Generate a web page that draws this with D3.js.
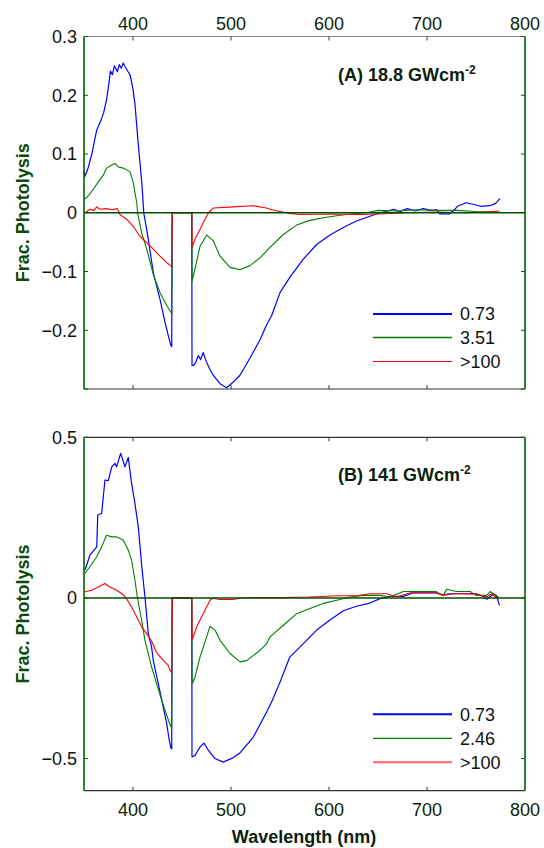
<!DOCTYPE html>
<html>
<head>
<meta charset="utf-8">
<script src="https://cdn.jsdelivr.net/npm/d3@7"></script>
<style>
  body { margin: 0; background: #fff; }
  svg text { font-family: "Liberation Sans", Arial, sans-serif; }
</style>
</head>
<body>
<svg id="chart" width="544" height="848"></svg>
<script>
// wavelength (nm), fractional photolysis
var aBlue = [[350,0.07],[351,0.062],[354,0.075],[358,0.1],[363,0.141],[367,0.156],[370,0.17],[373,0.192],[375,0.215],[377,0.241],[379,0.235],[381,0.25],[384,0.24],[386,0.252],[388,0.246],[390,0.255],[392,0.248],[395,0.24],[397,0.235],[400,0.21],[402,0.185],[405,0.124],[409,0.051],[411,0],[415.6,-0.045],[420.7,-0.102],[427.5,-0.147],[432.6,-0.186],[436,-0.209],[438.5,-0.225],[439.5,-0.228],[440,0],[460,0],[460.2,-0.26],[461.5,-0.26],[464,-0.255],[466.6,-0.243],[469,-0.25],[471.7,-0.238],[474,-0.25],[478,-0.265],[482,-0.277],[488.8,-0.291],[495.6,-0.298],[502.4,-0.288],[509,-0.277],[515,-0.26],[522.8,-0.237],[530,-0.215],[536,-0.192],[541.5,-0.175],[550,-0.136],[560,-0.11],[573.8,-0.079],[587.4,-0.054],[601,-0.038],[614.6,-0.025],[628,-0.014],[641.8,-0.006],[652,0],[660,0.003],[666,0.006],[672,0.002],[680,0.007],[688,0.003],[696,0.007],[704,0.004],[710,0.005],[713,-0.002],[723,-0.002],[728,0.005],[731,0.011],[740,0.017],[748,0.014],[754.6,0.011],[764,0.012],[770,0.016],[774.5,0.024]];
var aGreen = [[351,0.023],[355,0.03],[359.5,0.04],[366,0.056],[370,0.065],[373,0.076],[377,0.08],[381.6,0.084],[385,0.078],[390,0.076],[396.9,0.07],[400.3,0.051],[403.8,0.017],[404.7,0],[408.8,-0.034],[414,-0.062],[420.7,-0.105],[427.6,-0.136],[434.4,-0.158],[438.5,-0.169],[439.5,-0.172],[440,0],[460,0],[460.3,-0.116],[463.2,-0.096],[468.4,-0.057],[475.2,-0.038],[482,-0.048],[488.8,-0.074],[499,-0.093],[509,-0.097],[519.4,-0.09],[530,-0.076],[539.8,-0.059],[553.4,-0.037],[567,-0.021],[580.6,-0.013],[594,-0.0085],[607.9,-0.005],[621.4,-0.002],[638,0],[650,0.004],[670,0.003],[690,0.005],[710,0.004],[730,0.004],[750,0.002],[772,0.001]];
var aRed = [[351,0],[356,0.006],[360,0.004],[363,0.01],[366,0.006],[373,0.007],[378,0.005],[384,0.007],[386.7,-0.003],[393.5,-0.011],[400.3,-0.023],[407,-0.04],[414,-0.051],[420.7,-0.062],[427.6,-0.074],[434.4,-0.085],[438.5,-0.09],[439.5,-0.092],[440,0],[460,0],[460.3,-0.059],[463.3,-0.045],[468.4,-0.028],[473.5,-0.011],[477,0],[482,0.008],[502.4,0.01],[522.8,0.012],[536,0.008],[540,0.006],[550,0.002],[560,-0.001],[570,-0.003],[600,-0.002],[630,-0.003],[650,-0.002],[680,0],[710,0.001],[740,0],[760,0.001],[774,0.003]];

var bBlue = [[351,0.086],[356,0.133],[363,0.159],[364,0.258],[368,0.263],[371.4,0.367],[374.8,0.365],[378.3,0.408],[381.6,0.419],[383.3,0.408],[387.4,0.45],[391.8,0.408],[395.2,0.437],[398.6,0.356],[402,0.294],[405.4,0.221],[409,0.097],[412.2,0.003],[415.6,-0.111],[419,-0.153],[420.7,-0.194],[425.8,-0.267],[430.9,-0.34],[434.4,-0.391],[437,-0.443],[438.5,-0.466],[439.5,-0.47],[440,0],[460,0],[460.2,-0.495],[463.3,-0.49],[468.4,-0.464],[472.4,-0.452],[476.8,-0.474],[483.7,-0.5],[492,-0.511],[502.4,-0.497],[509,-0.483],[522.8,-0.433],[536.4,-0.355],[542,-0.32],[550,-0.262],[560,-0.184],[573.8,-0.142],[587.4,-0.1],[601,-0.069],[614.6,-0.04],[628,-0.026],[641.8,-0.016],[652,-0.002],[662,0.005],[676,0.005],[686,0.016],[700,0.016],[709,0.016],[716.5,0.01],[723,0.013],[740,0.013],[750,0.013],[757.5,0.005],[761,-0.004],[768,0.012],[771,0.005],[774,-0.023]];
var bGreen = [[351,0.076],[356,0.097],[363,0.128],[368,0.159],[373,0.195],[378.3,0.19],[383.3,0.19],[390,0.18],[395.2,0.149],[398.6,0.117],[402,0.055],[404.4,0.003],[408.8,-0.069],[412.2,-0.132],[419,-0.215],[424.1,-0.267],[429.3,-0.319],[434.4,-0.365],[438.5,-0.4],[439.5,-0.405],[440,0],[460,0],[460.3,-0.267],[463.3,-0.246],[468.4,-0.184],[473.5,-0.137],[478.6,-0.088],[483.7,-0.1],[488.8,-0.132],[499,-0.173],[509.2,-0.199],[516,-0.195],[529.6,-0.163],[536.4,-0.142],[539.8,-0.121],[553.4,-0.085],[567,-0.049],[580.6,-0.033],[594.2,-0.017],[607.9,-0.007],[621.4,0.003],[635,0.008],[652,0.008],[662,0.003],[676,0.02],[690,0.02],[709,0.02],[716.6,0.008],[720,0.027],[730,0.02],[744,0.02],[750,0.008],[761,0.008],[764.5,0.02],[773,0.003]];
var bRed = [[351,0.019],[357.8,0.024],[364.6,0.034],[371.4,0.045],[376.5,0.034],[383.3,0.024],[390,0.01],[393,0],[398.6,-0.028],[403.8,-0.059],[408.8,-0.09],[414,-0.111],[419,-0.135],[424,-0.17],[430.9,-0.194],[436,-0.21],[438.5,-0.23],[439.5,-0.232],[440,0],[460,0],[460.3,-0.13],[465,-0.09],[468.4,-0.069],[473.5,-0.038],[478.6,-0.007],[482,0],[488,-0.005],[502,-0.005],[510,0],[523,0.001],[553,0.001],[580,0.003],[608,0.007],[628,0.007],[642,0.013],[659,0.013],[669,0.003],[683,0.016],[709,0.016],[716,0.008],[730,0.014],[750,0.012],[761,0.003],[766,0.013],[773,-0.005]];

var xTicks = [400, 500, 600, 700, 800];
var aTicks = [0.3, 0.2, 0.1, 0, -0.1, -0.2, -0.3];
var bTicks = [0.5, 0, -0.5];

var panels = [
  { title: "(A) 18.8 GWcm", top: 36.5, bottom: 389, domain: [-0.3, 0.3], ticks: aTicks, labels: [0.3, 0.2, 0.1, 0, -0.1, -0.2],
    series: [aBlue, aGreen, aRed], legend: ["0.73", "3.51", ">100"], legendW: [2, 1.6, 1.1], labelsOnTop: true },
  { title: "(B) 141 GWcm", top: 437.3, bottom: 790.7, domain: [-0.6, 0.5], ticks: bTicks, labels: bTicks,
    series: [bBlue, bGreen, bRed], legend: ["0.73", "2.46", ">100"], legendW: [2, 1.3, 2], labelsOnTop: false }
];
var colors = ["#0000ff", "#008000", "#ff0000"];
var lineW = [1.2, 1.1, 1.1];

var svg = d3.select("#chart");
var left = 84, right = 525;
var x = d3.scaleLinear().domain([350, 800]).range([left, right]);
var axisGreen = "#006000";
var textCol = "#0c1f0c";

panels.forEach(function (p) {
  var y = d3.scaleLinear().domain(p.domain).range([p.bottom, p.top]);
  var g = svg.append("g");

  // curves
  var line = d3.line().x(function (d) { return x(d[0]); }).y(function (d) { return y(d[1]); });
  p.series.forEach(function (s, i) {
    g.append("path").datum(s)
      .attr("d", line)
      .attr("fill", "none")
      .attr("stroke", colors[i])
      .attr("stroke-width", lineW[i])
      .attr("stroke-linejoin", "round");
  });

  // zero line
  g.append("line")
    .attr("x1", left).attr("x2", right)
    .attr("y1", y(0)).attr("y2", y(0))
    .attr("stroke", "#005000").attr("stroke-width", 1.6);

  // frame
  g.append("line").attr("x1", left).attr("x2", right).attr("y1", p.top).attr("y2", p.top)
    .attr("stroke", p.labelsOnTop ? "#8a8a8a" : "#333").attr("stroke-width", 1.2);
  g.append("line").attr("x1", left).attr("x2", right).attr("y1", p.bottom).attr("y2", p.bottom)
    .attr("stroke", "#333").attr("stroke-width", 1.2);
  g.append("line").attr("x1", left).attr("x2", left).attr("y1", p.top).attr("y2", p.bottom)
    .attr("stroke", axisGreen).attr("stroke-width", 1.6);
  g.append("line").attr("x1", right).attr("x2", right).attr("y1", p.top).attr("y2", p.bottom)
    .attr("stroke", axisGreen).attr("stroke-width", 1.6);

  // inward ticks
  var innerX = xTicks.filter(function (t) { return t < 800; });
  g.selectAll(null).data(innerX).enter().append("line")
    .attr("x1", x).attr("x2", x).attr("y1", p.top).attr("y2", p.top + 4)
    .attr("stroke", axisGreen);
  g.selectAll(null).data(innerX).enter().append("line")
    .attr("x1", x).attr("x2", x).attr("y1", p.bottom).attr("y2", p.bottom - 4)
    .attr("stroke", axisGreen);
  g.selectAll(null).data(p.ticks).enter().append("line")
    .attr("x1", right).attr("x2", right - 4).attr("y1", y).attr("y2", y)
    .attr("stroke", axisGreen);
  g.selectAll(null).data(p.ticks).enter().append("line")
    .attr("x1", left).attr("x2", left + 4).attr("y1", y).attr("y2", y)
    .attr("stroke", axisGreen);

  // tick labels
  var fmt = function (d) { return d === 0 ? "0" : d3.format("")(d); };
  g.selectAll(null).data(p.labels).enter().append("text")
    .attr("x", left - 7).attr("y", y).attr("dy", "0.36em")
    .attr("text-anchor", "end").attr("font-size", 18).attr("fill", "#111")
    .text(fmt);
  g.selectAll(null).data(xTicks).enter().append("text")
    .attr("x", x).attr("y", p.labelsOnTop ? 29.5 : 816)
    .attr("text-anchor", "middle").attr("font-size", 18).attr("fill", textCol)
    .text(function (d) { return d; });

  // title
  var t = g.append("text").attr("x", 338).attr("y", p.top + 44)
    .attr("font-size", 18).attr("font-weight", "bold").attr("fill", textCol);
  t.append("tspan").text(p.title);
  t.append("tspan").attr("dy", -7).attr("font-size", 12).text("-2");

  // y label
  g.append("text")
    .attr("transform", "translate(29," + ((p.top + p.bottom) / 2) + ") rotate(-90)")
    .attr("text-anchor", "middle").attr("font-size", 18).attr("font-weight", "bold")
    .attr("fill", "#0a4a0a").text("Frac. Photolysis");

  // legend
  var ly = p.labelsOnTop ? [314, 337.5, 361.5] : [714.3, 738.3, 762.3];
  p.legend.forEach(function (name, i) {
    g.append("line").attr("x1", 373).attr("x2", 452).attr("y1", ly[i]).attr("y2", ly[i])
      .attr("stroke", colors[i]).attr("stroke-width", p.legendW[i])
      .attr("stroke-opacity", (!p.labelsOnTop && i === 2) ? 0.6 : 1);
    g.append("text").attr("x", 460).attr("y", ly[i]).attr("dy", "0.36em")
      .attr("font-size", 18).attr("fill", "#111").text(name);
  });
});

svg.append("text").attr("x", 304).attr("y", 843)
  .attr("text-anchor", "middle").attr("font-size", 18).attr("font-weight", "bold")
  .attr("fill", textCol).text("Wavelength (nm)");
</script>
</body>
</html>
